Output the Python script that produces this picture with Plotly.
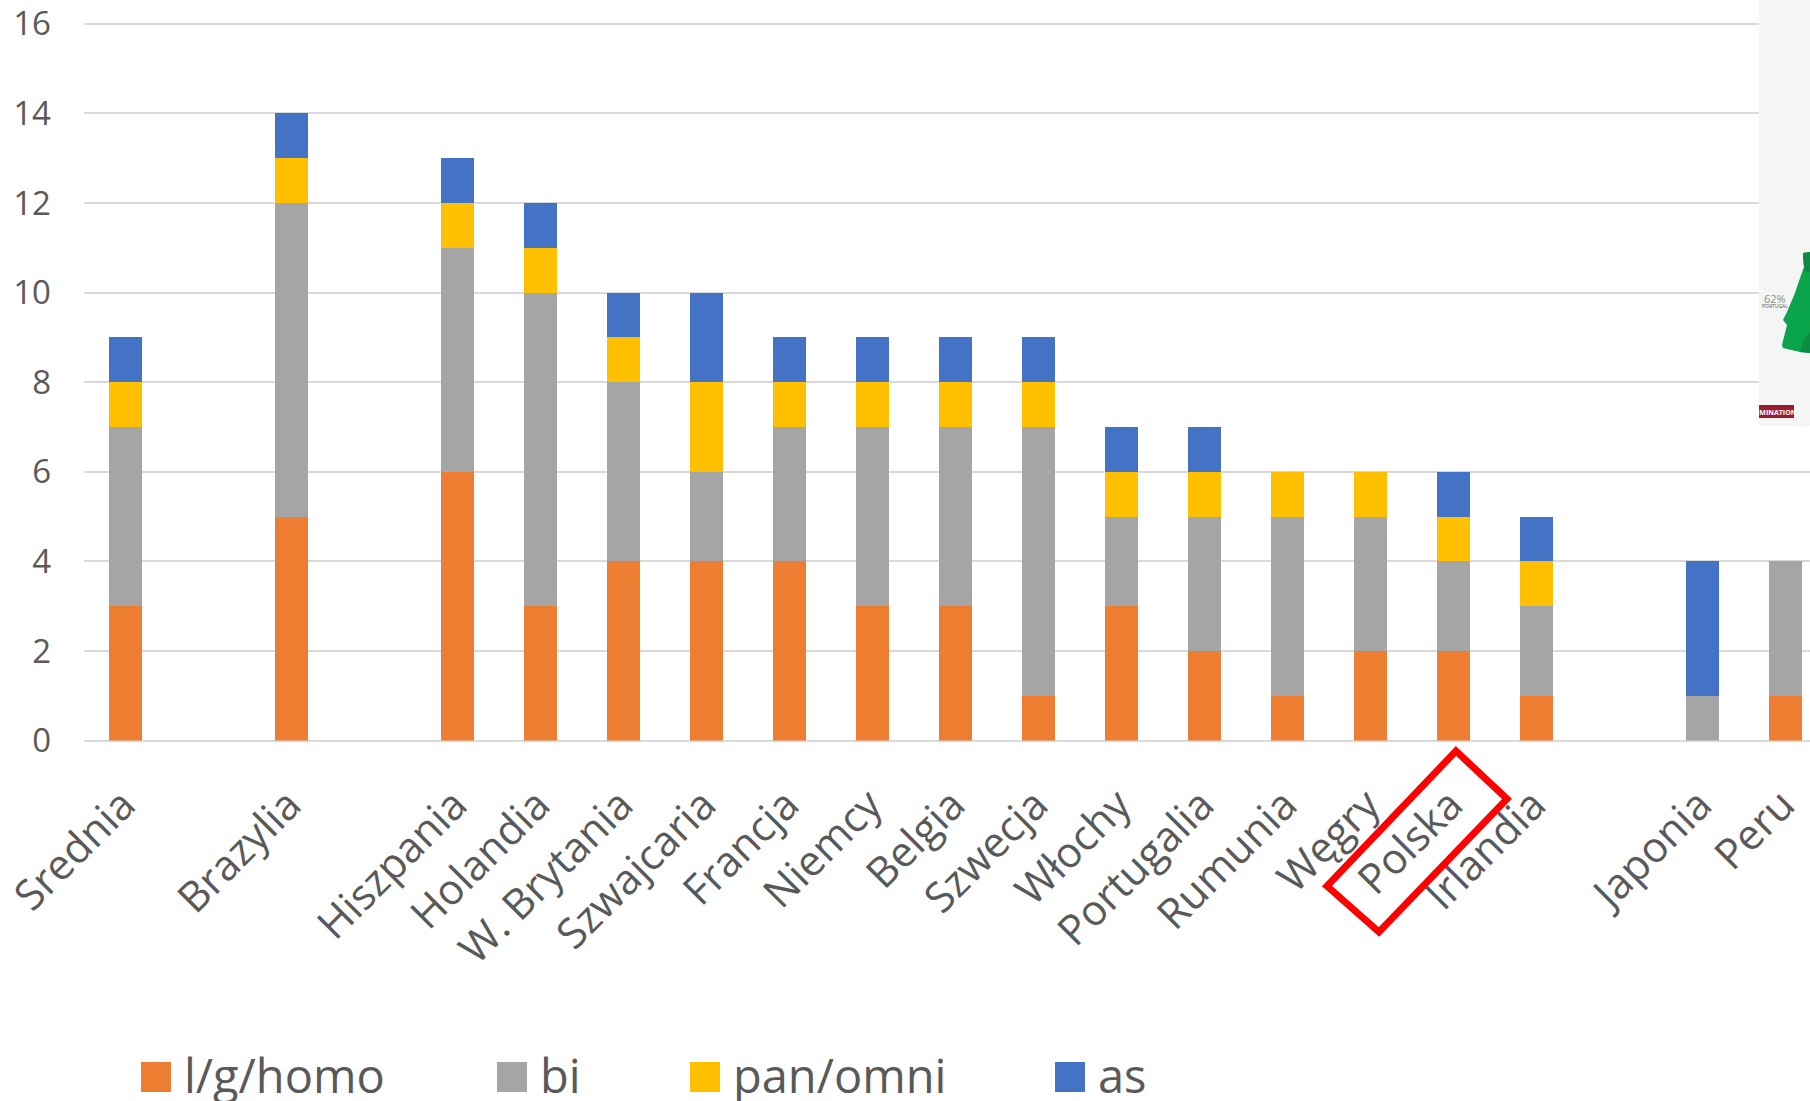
import plotly.graph_objects as go

categories = ["Srednia", " ", "Brazylia", "  ", "Hiszpania", "Holandia", "W. Brytania", "Szwajcaria",
              "Francja", "Niemcy", "Belgia", "Szwecja", "Włochy", "Portugalia", "Rumunia", "Węgry",
              "Polska", "Irlandia", "   ", "Japonia", "Peru"]
homo = [3, 0, 5, 0, 6, 3, 4, 4, 4, 3, 3, 1, 3, 2, 1, 2, 2, 1, 0, 0, 1]
bi   = [4, 0, 7, 0, 5, 7, 4, 2, 3, 4, 4, 6, 2, 3, 4, 3, 2, 2, 0, 1, 3]
pan  = [1, 0, 1, 0, 1, 1, 1, 2, 1, 1, 1, 1, 1, 1, 1, 1, 1, 1, 0, 0, 0]
asx  = [1, 0, 1, 0, 1, 1, 1, 2, 1, 1, 1, 1, 1, 1, 0, 0, 1, 1, 0, 3, 0]
series_names = ["l/g/homo", "bi", "pan/omni", "as"]
series_colors = ["#ED7D31", "#A5A5A5", "#FFC000", "#4472C4"]
legend_x = [141, 497, 690, 1055]
y_ticks = list(range(0, 17, 2))

W, H = 1810, 1101
FONT = "Open Sans"
TXT = "#595959"
def px(x): return x / W
def py(y): return 1 - y / H

fig = go.Figure()
for name, vals, col in zip(series_names, [homo, bi, pan, asx], series_colors):
    fig.add_bar(x=categories, y=vals, name=name, marker_color=col, marker_line_width=0, width=0.4)

shapes, annos = [], []
# legend
for x, name, col in zip(legend_x, series_names, series_colors):
    shapes.append(dict(type="rect", xref="paper", yref="paper", x0=px(x), x1=px(x + 30),
                       y0=py(1062), y1=py(1092), fillcolor=col, line_width=0))
    annos.append(dict(text=name, xref="paper", yref="paper", x=px(x + 41), y=py(1075), xanchor="left",
                      yanchor="middle", showarrow=False, font=dict(family=FONT, size=47, color=TXT)))

# red frame
def path(pts):
    return "M " + " L ".join(f"{px(a):.5f},{py(b):.5f}" for a, b in pts) + " Z"
shapes.append(dict(type="path", xref="paper", yref="paper", layer="above",
                   path=path([(1456, 751), (1507, 799), (1379, 932), (1327, 886)]),
                   line=dict(color="#FF0000", width=7), fillcolor="rgba(0,0,0,0)"))

# pasted picture fragment, top right
shapes.append(dict(type="rect", xref="paper", yref="paper", layer="above", x0=px(1759), x1=1,
                   y0=py(426), y1=1, fillcolor="#F3F6F4", line_width=0))
shapes.append(dict(type="path", xref="paper", yref="paper", layer="above",
                   path=path([(1803, 253), (1810, 252), (1810, 353), (1800, 352), (1783, 348), (1782, 345),
                              (1787, 325), (1783, 320), (1787, 312), (1795, 293), (1800, 278), (1804, 267),
                              (1803, 257)]),
                   fillcolor="#0AA44A", line_width=0))
shapes.append(dict(type="path", xref="paper", yref="paper", layer="above",
                   path=path([(1803, 253), (1810, 252), (1810, 272), (1804, 271), (1804, 267), (1803, 257)]),
                   fillcolor="#0E8B45", line_width=0))
shapes.append(dict(type="path", xref="paper", yref="paper", layer="above",
                   path=path([(1810, 332), (1803, 342), (1800, 352), (1810, 353)]),
                   fillcolor="#0E8B45", line_width=0))
shapes.append(dict(type="rect", xref="paper", yref="paper", layer="above", x0=px(1759), x1=px(1794),
                   y0=py(418), y1=py(405), fillcolor="#9B1C2E", line_width=0))
annos.append(dict(text="IMINATION", xref="paper", yref="paper", x=px(1777), y=py(412), xanchor="center",
                  yanchor="middle", showarrow=False, font=dict(family=FONT, size=7, color="#FFFFFF", weight=700)))
annos.append(dict(text="62%", xref="paper", yref="paper", x=px(1775), y=py(298), xanchor="center",
                  yanchor="middle", showarrow=False, font=dict(family=FONT, size=11, color="#8A8F8C")))
annos.append(dict(text="PORTUGAL", xref="paper", yref="paper", x=px(1775), y=py(306), xanchor="center",
                  yanchor="middle", showarrow=False, font=dict(family=FONT, size=5, color="#555555")))

# vertical scale: 44.8 px per unit, baseline at 740.6; top a hair above 16 so the 16 gridline is kept
BASE = 740.6
UNIT = 44.8
TOP_VAL = 16.1

fig.update_layout(
    barmode="stack", width=W, height=H, margin=dict(l=0, r=0, t=0, b=0, autoexpand=False),
    paper_bgcolor="#FFFFFF", plot_bgcolor="#FFFFFF", showlegend=False,
    font=dict(family=FONT, color=TXT), shapes=shapes, annotations=annos, bargap=0.6,
    xaxis=dict(domain=[px(84), 1], range=[-0.504, 20.296], type="category", categoryorder="array",
               categoryarray=categories, tickangle=-45, tickfont=dict(size=42, color=TXT, family=FONT),
               tickvals=categories, ticks="", showgrid=False, showline=False, zeroline=False,
               ticklabelstandoff=30, ticklabelshift=-3, automargin=False),
    yaxis=dict(domain=[py(BASE), py(BASE - UNIT * TOP_VAL)], range=[0, TOP_VAL], tickvals=y_ticks, ticks="",
               tickfont=dict(size=33, color=TXT, family=FONT), gridcolor="#D9D9D9", gridwidth=2,
               zeroline=True, zerolinecolor="#D9D9D9", zerolinewidth=2, showline=False,
               ticklabelstandoff=32, automargin=False),
)
fig.write_html("out.html", config={"displayModeBar": False},
               post_script="document.body.style.margin='0';document.body.style.overflow='hidden';")
